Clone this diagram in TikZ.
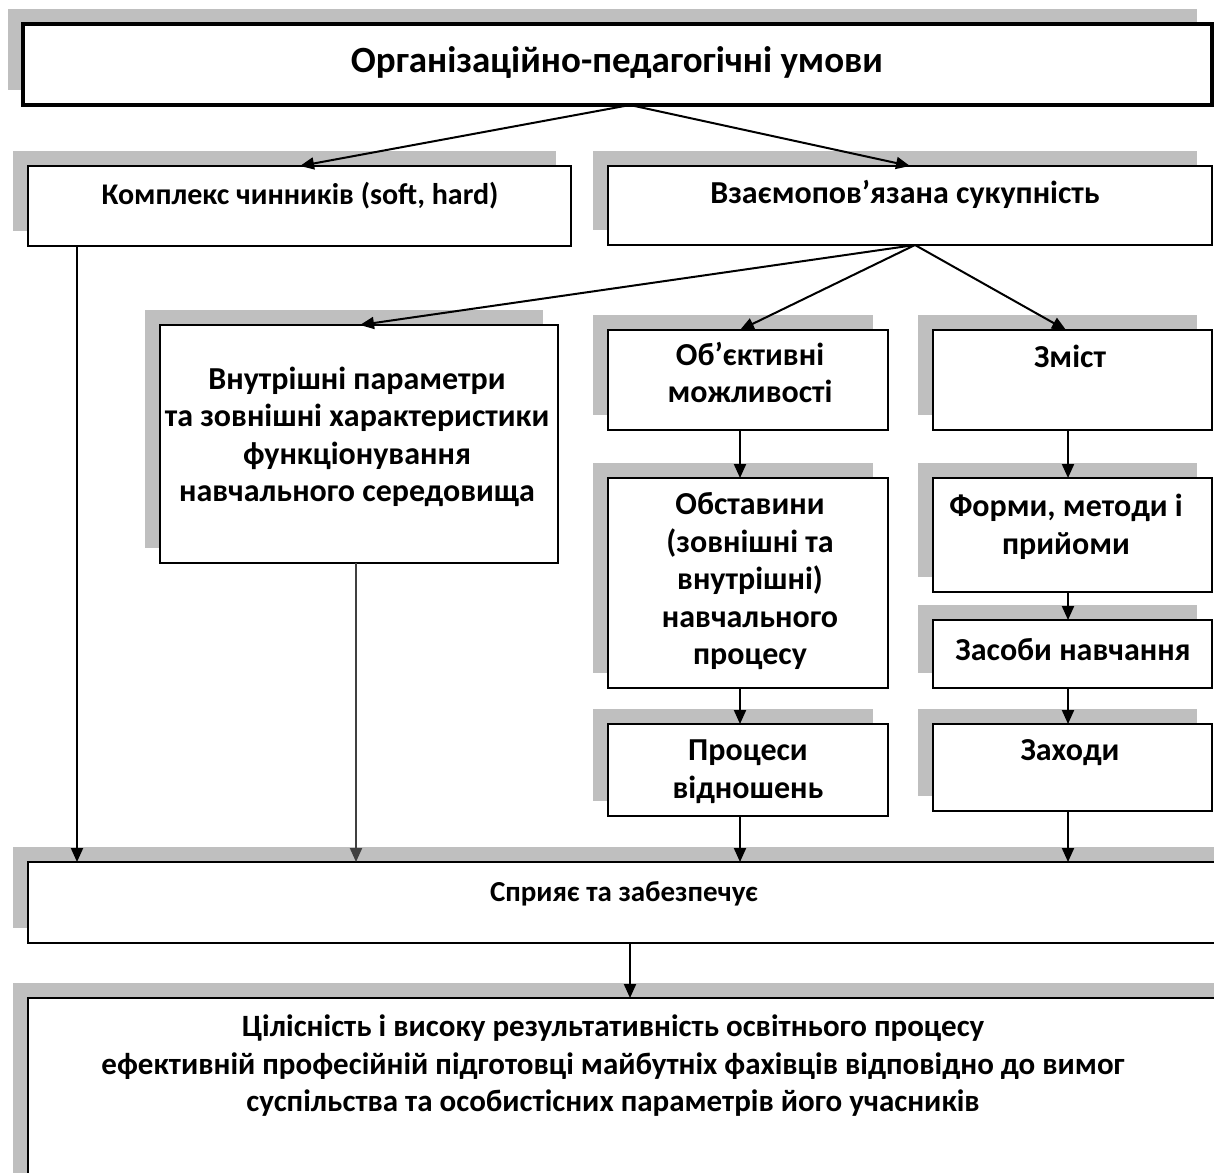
\documentclass[tikz,border=0pt]{standalone}
\usepackage{fontspec}
\setmainfont{Carlito}
\usetikzlibrary{arrows.meta,calc}
\definecolor{shadowgray}{RGB}{191,191,191}
\definecolor{dgray}{RGB}{64,64,64}
\tikzset{
 boxst/.style={draw=black, line width=2.2pt, fill=white, inner sep=0pt, outer sep=0pt},
 txt/.style={font=\bfseries\fontsize{32}{37.5}\selectfont, align=center, inner sep=0pt},
 arr/.style={line width=2pt, -{Triangle[length=14pt,width=12pt]}},
}
\newcommand\shbox[6][]{% opts, name, x1,y1,x2,y2
 \fill[shadowgray] (#3-15,#4-15) rectangle (#5-15,#6-15);
 \node[boxst, anchor=north west, minimum width={#5-#3}, minimum height={#6-#4}, #1] (#2) at (#3,#4) {};
}
\begin{document}
\begin{tikzpicture}[x=1pt,y=-1pt]
\clip (0,0) rectangle (1214,1172);
\fill[white] (0,0) rectangle (1214,1172);
% boxes
\shbox[line width=3.5pt]{top}{23}{24}{1212}{105}
\shbox{K}{28}{166}{571}{246}
\shbox{V}{608}{166}{1212}{245}
\shbox{I}{160}{325}{558}{563}
\shbox{O}{608}{330}{888}{430}
\shbox{Z}{933}{330}{1212}{430}
\shbox{Ob}{608}{478}{888}{688}
\shbox{F}{933}{478}{1212}{592}
\shbox{Zs}{933}{620}{1212}{688}
\shbox{P}{608}{724}{888}{816}
\shbox{Za}{933}{724}{1212}{811}
\shbox{S}{28}{862}{1240}{943}
\shbox{C}{28}{998}{1240}{1200}
% texts
\node[txt, font=\bfseries\fontsize{37}{40}\selectfont] (tTop) at (617,63) {Організаційно-педагогічні умови};
\node[txt, font=\bfseries\fontsize{30}{37}\selectfont] (tK) at (300,196) {Комплекс чинників (soft, hard)};
\node[txt] (tV) at (905,194) {Взаємопов’язана сукупність};
\node[txt] (tI) at (357,437) {Внутрішні параметри\\та зовнішні характеристики\\функціонування\\навчального середовища};
\node[txt] (tO) at (750,372.5) {Об’єктивні\\можливості};
\node[txt] (tZ) at (1070,356) {Зміст};
\node[txt] (tOb) at (750,581.5) {Обставини\\(зовнішні та\\внутрішні)\\навчального\\процесу};
\node[txt] (tF) at (1066,527) {Форми, методи і\\прийоми};
\node[txt] (tZs) at (1073,650) {Засоби навчання};
\node[txt] (tP) at (748,771.5) {Процеси\\відношень};
\node[txt] (tZa) at (1070,753) {Заходи};
\node[txt, font=\bfseries\fontsize{29}{37}\selectfont] (tS) at (624,894) {Сприяє та забезпечує};
\node[txt, font=\bfseries\fontsize{31}{37.5}\selectfont] (tC) at (613,1066) {Цілісність і високу результативність освітнього процесу\\ефективній професійній підготовці майбутніх фахівців відповідно до вимог\\суспільства та особистісних параметрів його учасників};
% x positions
\coordinate (x630) at (630,0);
\coordinate (x300) at (300,0);
\coordinate (x910) at (910,0);
\coordinate (x915) at (915,0);
\coordinate (x360) at (360,0);
\coordinate (x740) at (740,0);
\coordinate (x1066) at (1066,0);
\coordinate (x1068) at (1068,0);
\coordinate (x77) at (77,0);
\coordinate (x356) at (356,0);
% connectors
\draw[arr] (top.south -| x630) -- (K.north -| x300);
\draw[arr] (top.south -| x630) -- (V.north -| x910);
\draw[arr] (V.south -| x915) -- (I.north -| x360);
\draw[arr] (V.south -| x915) -- (O.north -| x740);
\draw[arr] (V.south -| x915) -- (Z.north -| x1066);
\draw[arr] (O.south -| x740) -- (Ob.north -| x740);
\draw[arr] (Ob.south -| x740) -- (P.north -| x740);
\draw[arr] (P.south -| x740) -- (S.north -| x740);
\draw[arr] (Z.south -| x1068) -- (F.north -| x1068);
\draw[arr] (F.south -| x1068) -- (Zs.north -| x1068);
\draw[arr] (Zs.south -| x1068) -- (Za.north -| x1068);
\draw[arr] (Za.south -| x1068) -- (S.north -| x1068);
\draw[arr] (K.south -| x77) -- (S.north -| x77);
\draw[arr, draw=dgray, fill=dgray] (I.south -| x356) -- (S.north -| x356);
\draw[arr] (S.south -| x630) -- (C.north -| x630);
\end{tikzpicture}
\end{document}
